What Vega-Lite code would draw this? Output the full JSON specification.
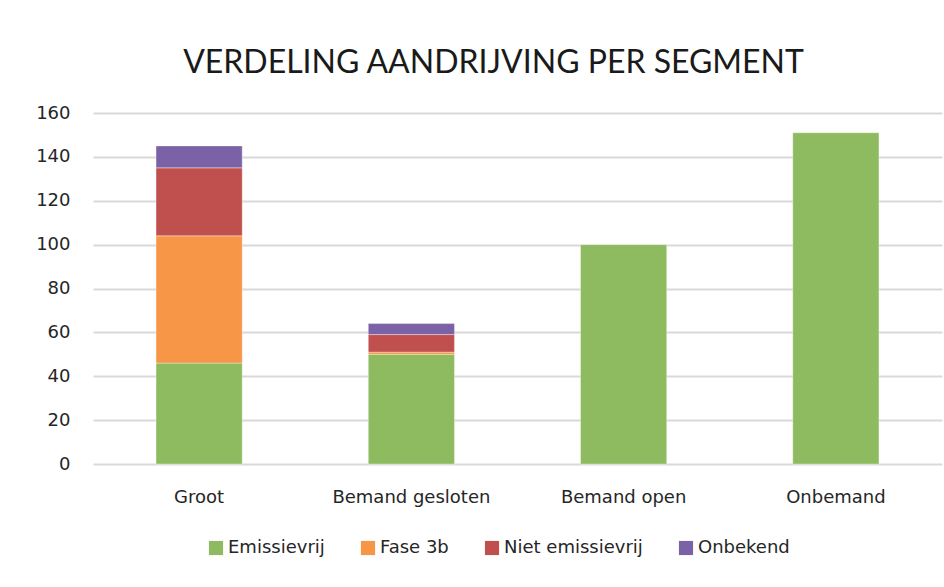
{
  "$schema": "https://vega.github.io/schema/vega-lite/v6.json",
  "width": 849,
  "height": 351,
  "autosize": {"type": "none"},
  "padding": {"left": 93, "top": 113, "right": 2, "bottom": 123},
  "background": "white",
  "title": {
    "text": "VERDELING AANDRIJVING PER SEGMENT",
    "font": "Lato",
    "fontSize": 32,
    "fontWeight": "normal",
    "color": "#1a1a1a",
    "anchor": "middle",
    "dx": -24,
    "baseline": "alphabetic",
    "offset": -1
  },
  "data": {
    "values": [
      {"segment": "Groot", "aandrijving": "Emissievrij", "aantal": 46},
      {"segment": "Groot", "aandrijving": "Fase 3b", "aantal": 58},
      {"segment": "Groot", "aandrijving": "Niet emissievrij", "aantal": 31},
      {"segment": "Groot", "aandrijving": "Onbekend", "aantal": 10},
      {"segment": "Bemand gesloten", "aandrijving": "Emissievrij", "aantal": 50},
      {"segment": "Bemand gesloten", "aandrijving": "Fase 3b", "aantal": 1},
      {"segment": "Bemand gesloten", "aandrijving": "Niet emissievrij", "aantal": 8},
      {"segment": "Bemand gesloten", "aandrijving": "Onbekend", "aantal": 5},
      {"segment": "Bemand open", "aandrijving": "Emissievrij", "aantal": 100},
      {"segment": "Onbemand", "aandrijving": "Emissievrij", "aantal": 151}
    ]
  },
  "mark": {"type": "bar", "stroke": "white", "strokeOpacity": 0.35, "strokeWidth": 1},
  "encoding": {
    "x": {
      "field": "segment",
      "type": "nominal",
      "sort": ["Groot", "Bemand gesloten", "Bemand open", "Onbemand"],
      "scale": {"paddingInner": 0.594, "paddingOuter": 0.297},
      "axis": {
        "title": null,
        "labelAngle": 0,
        "labelFont": "DejaVu Sans",
        "labelFontSize": 18,
        "labelColor": "#262626",
        "labelPadding": 24,
        "ticks": false,
        "domain": false,
        "grid": false
      }
    },
    "y": {
      "field": "aantal",
      "type": "quantitative",
      "aggregate": "sum",
      "stack": "zero",
      "scale": {"domain": [0, 160], "nice": false},
      "axis": {
        "title": null,
        "values": [0, 20, 40, 60, 80, 100, 120, 140, 160],
        "labelFont": "DejaVu Sans",
        "labelFontSize": 18,
        "labelColor": "#262626",
        "labelPadding": 23,
        "ticks": false,
        "domain": false,
        "grid": true,
        "gridColor": "#d9d9d9",
        "gridWidth": 2
      }
    },
    "color": {
      "field": "aandrijving",
      "type": "nominal",
      "scale": {
        "domain": ["Emissievrij", "Fase 3b", "Niet emissievrij", "Onbekend"],
        "range": ["#8ebb5f", "#f79646", "#c0504d", "#7b62a6"]
      },
      "legend": {
        "title": null,
        "orient": "none",
        "direction": "horizontal",
        "legendX": 114,
        "legendY": 426,
        "symbolType": "square",
        "symbolSize": 200,
        "symbolStrokeWidth": 0,
        "symbolOpacity": 1,
        "labelFont": "DejaVu Sans",
        "labelFontSize": 18,
        "labelColor": "#262626",
        "labelOffset": 3,
        "columnPadding": 34
      }
    },
    "order": {"field": "aandrijving", "sort": "ascending"}
  },
  "config": {"view": {"stroke": null}}
}
